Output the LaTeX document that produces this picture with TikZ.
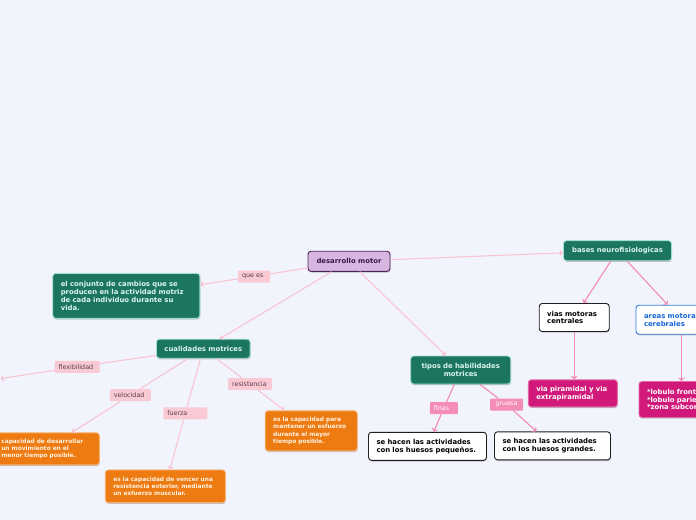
\documentclass[tikz,border=0pt]{standalone}
\usepackage{fontspec}
\setmainfont{DejaVu Sans}
\usetikzlibrary{arrows.meta,shadows}
\definecolor{bg}{HTML}{F2F4FD}
\definecolor{gfill}{HTML}{1B7561}
\definecolor{gbord}{HTML}{9EE0CC}
\definecolor{gtext}{HTML}{DDF6EE}
\definecolor{ofill}{HTML}{EE7A12}
\definecolor{obord}{HTML}{F6B06A}
\definecolor{otext}{HTML}{FFF3E2}
\definecolor{mfill}{HTML}{D0197A}
\definecolor{mbord}{HTML}{E26AA6}
\definecolor{pfill}{HTML}{D8B6E2}
\definecolor{pbord}{HTML}{4B2454}
\definecolor{ptext}{HTML}{3A1A44}
\definecolor{bbord}{HTML}{2B7FE0}
\definecolor{btext}{HTML}{1565D8}
\definecolor{lfill}{HTML}{F9C9D4}
\definecolor{ltext}{HTML}{5A3D44}
\definecolor{dlfill}{HTML}{F48DB6}
\definecolor{lcol}{HTML}{F8C4D2}
\definecolor{dcol}{HTML}{F18AB5}
\begin{document}
\begin{tikzpicture}[x=1bp,y=-1bp,
  box/.style={rounded corners=3bp, inner xsep=8bp, inner ysep=2bp,
    font=\fontsize{6.9}{7.9}\selectfont\bfseries, line width=0.9bp,
    drop shadow={shadow xshift=0.5bp,shadow yshift=-1.2bp,fill=black,opacity=0.22}},
  gbox/.style={box, fill=gfill, draw=gbord, text=gtext},
  obox/.style={box, fill=ofill, draw=obord, text=otext, font=\fontsize{5.9}{7.2}\selectfont\bfseries},
  mbox/.style={box, fill=mfill, draw=mbord, text=white},
  wbox/.style={box, fill=white, draw=black!88, text=black},
  bbox/.style={box, fill=white, draw=bbord, text=btext},
  pbox/.style={box, fill=pfill, draw=pbord, text=ptext},
  lab/.style={fill=lfill, text=ltext, font=\fontsize{6.4}{7}\selectfont, inner xsep=4bp, inner ysep=0pt,
    minimum height=12bp, rounded corners=1bp, align=left},
  dlab/.style={lab, fill=dlfill, text=white},
  lc/.style={draw=lcol, line width=1.1bp},
  dc/.style={draw=dcol, line width=1.1bp},
  tip/.style={-{Stealth[length=3.5bp,width=7bp,inset=1.2bp]}}
]
\useasboundingbox[fill=bg] (0,0) rectangle (696,520);

% main nodes
\node[pbox, minimum width=82bp, minimum height=20bp] (dm) at (349,261.3) {desarrollo motor};
\node[gbox, text width=131bp, minimum height=45bp, align=left] (conj) at (126.3,295.8)
  {el conjunto de cambios que se\\producen en la actividad motriz\\de cada individuo durante su\\vida.};
\node[gbox, minimum width=93bp, minimum height=19bp] (cual) at (203.3,348.7) {cualidades motrices};
\node[gbox, text width=84bp, minimum height=28bp, align=center] (tipos) at (460.7,370) {tipos de habilidades\\motrices};
\node[gbox, minimum width=108bp, minimum height=20bp] (bases) at (617.5,250.7) {bases neurofisiologicas};

\node[wbox, text width=54bp, minimum height=28bp, align=left] (vias) at (574.2,317.5) {vias motoras\\centrales};
\node[bbox, text width=75bp, minimum height=29bp, align=left] (areas) at (681.5,319.7) {areas motoras\\cerebrales};
\node[mbox, text width=73bp, minimum height=27bp, align=left] (pira) at (572.8,393.3) {via piramidal y via\\extrapiramidal};
\node[mbox, text width=69bp, minimum height=36bp, align=left] (lob) at (681.5,399.5) {*lobulo frontal\\\relax *lobulo parietal\\\relax *zona subcortical};

\node[wbox, text width=102bp, minimum height=28bp, align=left] (peq) at (427.5,446.3) {se hacen las actividades\\con los huesos pequeños.};
\node[wbox, text width=100bp, minimum height=28bp, align=left] (gra) at (552.5,445.8) {se hacen las actividades\\con los huesos grandes.};

\node[obox, text width=90bp, minimum height=32bp, align=left] (velbox) at (46.3,448.8) {capacidad de desarrollar\\un movimiento en el\\menor tiempo posible.};
\node[obox, text width=104bp, minimum height=32.7bp, align=left] (fuebox) at (165.3,486.3) {es la capacidad de vencer una\\resistencia exterior, mediante\\un esfuerzo muscular.};
\node[obox, text width=76bp, minimum height=40bp, align=left] (resbox) at (311.2,430.8) {es la capacidad para\\mantener un esfuerzo\\durante el mayor\\tiempo posible.};

\coordinate (flextip) at (0.5,378.6);

% labels
\node[lab, text width=24bp] (quees) at (254,276.5) {que es};
\node[lab, text width=37bp] (flex) at (77,366.8) {flexibilidad};
\node[lab, text width=33bp] (vel) at (130.3,395.2) {velocidad};
\node[lab, text width=36bp] (fue) at (185.3,413.3) {fuerza};
\node[lab, text width=36bp] (res) at (250.2,384.2) {resistencia};
\node[dlab, text width=20bp] (finas) at (443.8,408.2) {finas};
\node[dlab, text width=25bp, align=center] (gruesa) at (506.5,404.5) {gruesa};

% connectors
\draw[lc] (dm) -- (quees);
\draw[lc,tip] (quees) -- (conj);
\draw[lc,tip] (dm) -- (cual);
\draw[lc,tip] (dm) -- (tipos);
\draw[lc,tip] (dm) -- (bases);

\draw[lc] (cual) -- (flex);
\draw[lc,tip] (flex) -- (flextip);
\draw[lc] (cual) -- (vel);
\draw[lc,tip] (vel) -- (velbox);
\draw[lc] (cual) -- (fue);
\draw[lc,tip] (fue) -- (fuebox);
\draw[lc] (cual) -- (res);
\draw[lc,tip] (res) -- (resbox);

\draw[dc] (tipos) -- (finas);
\draw[dc,tip] (finas) -- (peq);
\draw[dc] (tipos) -- (gruesa);
\draw[dc,tip] (gruesa) -- (gra);

\draw[dc,tip] (bases) -- (vias);
\draw[dc,tip] (bases) -- (areas);
\draw[dc,tip] (vias.south) -- (vias.south |- pira.north);
\draw[dc,tip] (areas.south) -- (areas.south |- lob.north);
\end{tikzpicture}
\end{document}
